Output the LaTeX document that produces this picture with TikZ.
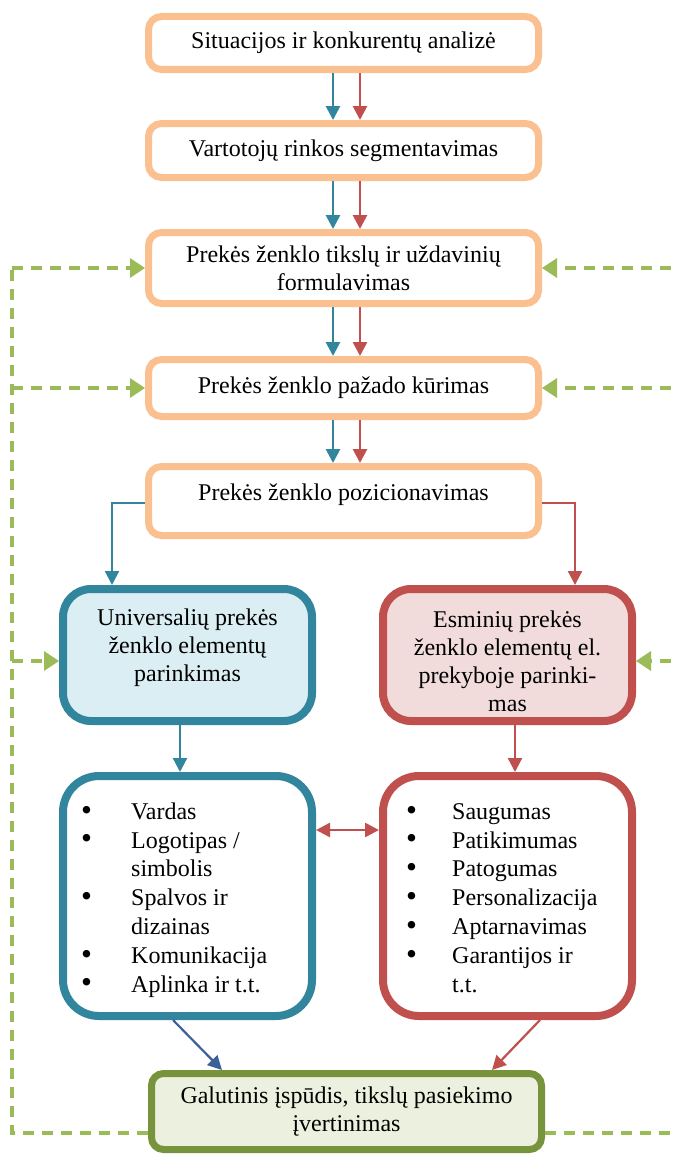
\documentclass[tikz,border=0pt]{standalone}
\usepackage{fontspec}
\setmainfont{Liberation Serif}
\usetikzlibrary{arrows.meta,calc}
\definecolor{obord}{HTML}{FAC090}
\definecolor{tealb}{HTML}{31859C}
\definecolor{redb}{HTML}{C0504D}
\definecolor{bluefill}{HTML}{DAEEF3}
\definecolor{redfill}{HTML}{F2DCDB}
\definecolor{greend}{HTML}{9BBB59}
\definecolor{greenb}{HTML}{77933C}
\definecolor{greenfill}{HTML}{EBF1DE}
\definecolor{darkblue}{HTML}{3A6298}
\newcommand{\bul}{\raisebox{-0.8pt}{\scalebox{1.3}{\textbullet}}}
\begin{document}
\begin{tikzpicture}[x=1pt,y=-1pt,
  txt/.style={font=\fontsize{24}{28}\selectfont, align=center},
  obox/.style={draw=obord, line width=7pt, rounded corners=13pt, fill=white,
    minimum width=390pt, inner sep=0pt, txt},
  cbox/.style={line width=8pt, rounded corners=28pt, minimum width=249pt,
    minimum height=132pt, inner sep=0pt, txt},
  lbox/.style={line width=8pt, rounded corners=36pt, minimum width=249pt,
    minimum height=240pt, inner sep=0pt, fill=white},
  gbox/.style={draw=greenb, fill=greenfill, line width=7pt, rounded corners=12pt,
    minimum width=390pt, minimum height=76pt, inner sep=0pt, txt},
  tip/.style={-{Triangle[length=14pt,width=14pt]}},
  barr/.style={tip, draw=tealb, line width=2.8pt},
  rarr/.style={tip, draw=redb, line width=2.8pt},
  thinb/.style={tip, draw=tealb, line width=2.2pt},
  thinr/.style={tip, draw=redb, line width=2.2pt},
  dashg/.style={draw=greend, line width=3.2pt, dash pattern=on 11pt off 8pt},
  dasharr/.style={dashg, -{Triangle[length=15pt,width=19pt]}},
  listtxt/.style={font=\fontsize{24}{28.8}\selectfont, inner sep=0pt, anchor=north west}
]
\useasboundingbox (0,0) rectangle (677,1156);
\clip (0,0) rectangle (677,1156);

% orange boxes
\node[obox, minimum height=53pt] (b1) at (343.5,43) {Situacijos ir konkurentų analizė};
\node[obox, minimum height=54pt] (b2) at (343.5,150.5) {Vartotojų rinkos segmentavimas};
\node[obox, minimum height=71pt] (b3) at (343.5,268) {Prekės ženklo tikslų ir uždavinių\\formulavimas};
\node[obox, minimum height=57pt] (b4) at (343.5,388) {Prekės ženklo pažado kūrimas};
\node[obox, minimum height=69pt, label={[txt, yshift=6pt]center:Prekės ženklo pozicionavimas}] (b5) at (343.5,501) {};

% colored boxes
\node[cbox, draw=tealb, fill=bluefill, label={[txt, yshift=7pt]center:Universalių prekės\\ženklo elementų\\parinkimas}] (L1) at (187.5,655) {};
\node[cbox, draw=redb, fill=redfill, label={[txt, yshift=-6pt]center:Esminių prekės\\ženklo elementų el.\\prekyboje parinki-\\mas}] (R1) at (507.5,655) {};

% list boxes
\node[lbox, draw=tealb] (L2) at (187.5,896) {};
\node[lbox, draw=redb] (R2) at (507.5,896) {};
\node[listtxt] (Lt) at (81,799) {\begin{tabular}{@{}p{50pt}@{}l@{}}
\bul & Vardas\\
\bul & Logotipas /\\
 & simbolis\\
\bul & Spalvos ir\\
 & dizainas\\
\bul & Komunikacija\\
\bul & Aplinka ir t.t.
\end{tabular}};
\node[listtxt] (Rt) at (406,799) {\begin{tabular}{@{}p{46pt}@{}l@{}}
\bul & Saugumas\\
\bul & Patikimumas\\
\bul & Patogumas\\
\bul & Personalizacija\\
\bul & Aptarnavimas\\
\bul & Garantijos ir\\
 & t.t.
\end{tabular}};

% bottom box
\node[gbox] (G) at (346.5,1111.5) {Galutinis įspūdis, tikslų pasiekimo\\įvertinimas};

% vertical double arrows
\foreach \a/\b in {b1/b2,b2/b3,b3/b4,b4/b5}{
  \draw[barr] ([xshift=-10.5pt]\a.south) -- ([xshift=-10.5pt]\b.north);
  \draw[rarr] ([xshift=16.5pt]\a.south) -- ([xshift=16.5pt]\b.north);
}

% split from positioning
\draw[thinb] ([yshift=-2pt]b5.west) -| ([xshift=-75.5pt]L1.north);
\draw[thinr] ([yshift=-2pt]b5.east) -| ([xshift=67.5pt]R1.north);

% colored to list
\draw[thinb] ([xshift=-7.5pt]L1.south) -- ([xshift=-7.5pt]L2.north);
\draw[thinr] ([xshift=7.5pt]R1.south) -- ([xshift=7.5pt]R2.north);

% double arrow between lists
\draw[redb, line width=2.6pt, {Triangle[length=14pt,width=14pt]}-{Triangle[length=14pt,width=14pt]}]
  ([yshift=66pt]L2.east) -- ([yshift=66pt]R2.west);

% lists to bottom
\draw[tip, draw=darkblue, line width=2.2pt] ([xshift=-14.5pt]L2.south) -- ([xshift=-124.5pt]G.north);
\draw[tip, draw=redb, line width=2.2pt] ([xshift=32.5pt]R2.south) -- ([xshift=145.5pt]G.north);

% feedback dashed lines
\coordinate (LT) at (12,268);
\coordinate (RT) at (690,268);
\draw[dashg] ([yshift=-21.5pt]G.west) -| (LT);
\draw[dashg] ([yshift=-21.5pt]G.east) -| (RT);
\draw[dasharr] (LT |- b3.west) -- (b3.west);
\draw[dasharr] (LT |- b4.west) -- (b4.west);
\draw[dasharr] ([yshift=-6pt]LT |- L1.west) -- ([yshift=-6pt]L1.west);
\draw[dasharr] (RT |- b3.east) -- (b3.east);
\draw[dasharr] (RT |- b4.east) -- (b4.east);
\draw[dasharr] ([yshift=-6pt]RT |- R1.east) -- ([yshift=-6pt]R1.east);
\end{tikzpicture}
\end{document}
